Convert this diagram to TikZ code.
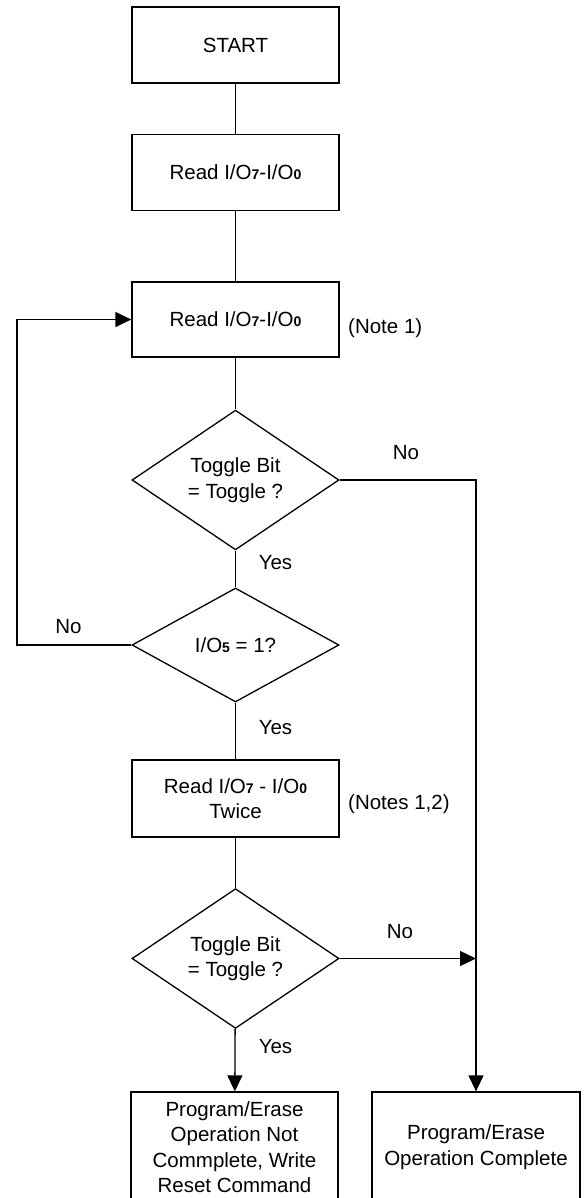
\documentclass[tikz,border=0pt]{standalone}
\usepackage{fontspec}
\setmainfont{Liberation Sans}
\usetikzlibrary{shapes.geometric,arrows.meta}
\newcommand{\sbit}[1]{{\bfseries\fontsize{14}{14}\selectfont #1}}
\begin{document}
\begin{tikzpicture}[x=1pt,y=-1pt,
  every node/.style={font=\fontsize{20.5}{25.5}\selectfont},
  procbox/.style={draw,line width=1.3pt,minimum width=207pt,minimum height=76pt,inner sep=0pt,align=center},
  decision/.style={draw,diamond,line width=1.3pt,minimum width=207pt,minimum height=114pt,inner sep=0pt,align=center},
  link/.style={line width=1.3pt},
  arr/.style={link,-{Triangle[length=16pt,width=15pt]}},
  lbl/.style={inner sep=0pt}]
\path[use as bounding box,clip] (0,0) rectangle (587,1198);
\fill[white] (0,0) rectangle (587,1198);

\node[procbox] (start) at (235.5,45) {START};
\node[procbox] (read1) at (235.5,172.5) {Read I/O\sbit{7}-I/O\sbit{0}};
\node[procbox,minimum height=75pt] (read2) at (235.5,319.5) {Read I/O\sbit{7}-I/O\sbit{0}};
\node[decision] (d1) at (235.5,480) {Toggle Bit\\= Toggle ?};
\node[decision] (d2) at (235.5,645) {I/O\sbit{5} = 1?};
\node[procbox,minimum height=77pt] (read3) at (235.5,798.5) {Read I/O\sbit{7} - I/O\sbit{0}\\Twice};
\node[decision,minimum height=113pt] (d3) at (235.5,958.5) {Toggle Bit\\= Toggle ?};
\node[procbox,minimum height=110pt] (bl) at (234.5,1147) {Program/Erase\\Operation Not\\Commplete, Write\\Reset Command};
\node[procbox,minimum width=208pt,minimum height=110pt] (br) at (476,1147) {Program/Erase\\Operation Complete};

\draw[link] (start) -- (read1);
\draw[link] (read1) -- (read2);
\draw[link] (read2) -- (d1);
\draw[link] (d1) -- (d2);
\draw[link] (d2) -- (read3);
\draw[link] (read3) -- (d3);
\draw[arr] (d3) -- (bl);
\draw[arr] (d1.east) -| (br.north);
\draw[arr] (d3.east) -- (d3.east -| br.north);
\coordinate (lx) at (17,645);
\draw[arr] (d2.west) -- (lx) |- (read2.west);

\node[lbl] (no1) at (406,453) {No};
\node[lbl] (yes1) at (275.5,563) {Yes};
\node[lbl] (no2) at (68.5,627) {No};
\node[lbl] (yes2) at (275.5,728) {Yes};
\node[lbl,anchor=west] (n1) at (348,328) {(Note 1)};
\node[lbl,anchor=west] (n2) at (348,804) {(Notes 1,2)};
\node[lbl] (no3) at (400,932) {No};
\node[lbl] (yes3) at (275.5,1047) {Yes};
\end{tikzpicture}
\end{document}
